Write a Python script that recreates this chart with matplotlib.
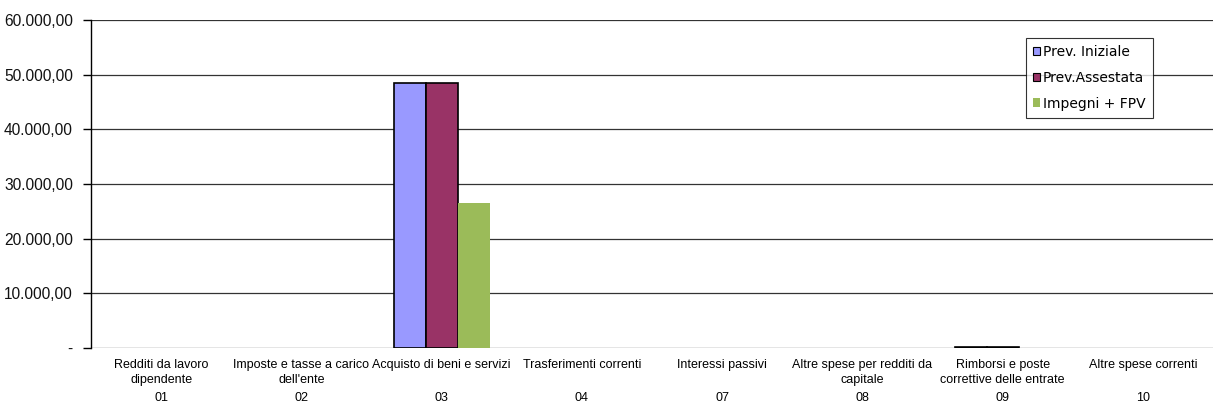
import numpy as np
import matplotlib.pyplot as plt
from matplotlib.patches import Patch
from matplotlib.ticker import FuncFormatter

# Spese correnti per macroaggregato
codici = ["01", "02", "03", "04", "07", "08", "09", "10"]
voci = [
    "Redditi da lavoro\ndipendente",
    "Imposte e tasse a carico\ndell'ente",
    "Acquisto di beni e servizi",
    "Trasferimenti correnti",
    "Interessi passivi",
    "Altre spese per redditi da\ncapitale",
    "Rimborsi e poste\ncorrettive delle entrate",
    "Altre spese correnti",
]
prev_iniziale = [0, 0, 48500, 0, 0, 0, 200, 0]
prev_assestata = [0, 0, 48500, 0, 0, 0, 200, 0]
impegni_fpv = [0, 0, 26500, 0, 0, 0, 0, 0]


def formato_it(v, pos):
    if v == 0:
        return "-"
    s = "{:,.2f}".format(v)
    return s.replace(",", "X").replace(".", ",").replace("X", ".")


fig = plt.figure(figsize=(12.13, 4.05), dpi=100)
ax = fig.add_axes([91 / 1213, 1 - 348 / 405, 1 - 91 / 1213, (348 - 20) / 405])

x = np.arange(len(codici))
w = 0.228
b1 = ax.bar(x - w, prev_iniziale, w, color="#9999FF", edgecolor="black", linewidth=1.2, zorder=3)
b2 = ax.bar(x, prev_assestata, w, color="#993366", edgecolor="black", linewidth=1.2, zorder=3)
b3 = ax.bar(x + w, impegni_fpv, w, color="#9BBB59", edgecolor="none", zorder=3)
# le barre a zero non si vedono
for bars in (b1, b2, b3):
    for p in bars.patches:
        if p.get_height() == 0:
            p.set_visible(False)

ax.set_xlim(-0.5, len(codici) - 0.5)
ax.set_ylim(0, 60000)
ax.set_yticks(np.arange(0, 60001, 10000))
ax.yaxis.set_major_formatter(FuncFormatter(formato_it))
ax.grid(axis="y", color="#333333", linewidth=0.9, zorder=0)

for s in ["top", "right", "bottom"]:
    ax.spines[s].set_visible(False)
ax.spines["left"].set_color("black")
ax.spines["left"].set_linewidth(1.0)
ax.tick_params(axis="y", direction="out", length=6, width=1, color="black",
               labelsize=11.2, labelcolor="#111111", pad=7)
for t in ax.get_yticklabels():
    t.set_family("Liberation Sans")

ax.set_xticks(x)
ax.set_xticklabels(voci, fontsize=9, family="Liberation Sans", linespacing=1.3)
ax.tick_params(axis="x", length=0, pad=8)

for xi, c in zip(x, codici):
    ax.annotate(c, xy=(xi, 0), xycoords=("data", "axes fraction"),
                xytext=(0, -50), textcoords="offset pixels",
                ha="center", va="center", fontsize=9, family="Liberation Sans")

handles = [
    Patch(facecolor="#9999FF", edgecolor="black", linewidth=0.8, label="Prev. Iniziale"),
    Patch(facecolor="#993366", edgecolor="black", linewidth=0.8, label="Prev.Assestata"),
    Patch(facecolor="#9BBB59", edgecolor="none", label="Impegni + FPV"),
]
leg = ax.legend(handles=handles, loc="upper left", bbox_to_anchor=(0.833, 0.945),
                bbox_transform=ax.transAxes, fontsize=10, frameon=True, fancybox=False,
                handlelength=0.55, handleheight=0.55, handletextpad=0.2, labelspacing=0.85,
                borderpad=0.5, borderaxespad=0)
leg.get_frame().set_edgecolor("black")
leg.get_frame().set_linewidth(0.8)

fig.savefig("out.png", dpi=100)
